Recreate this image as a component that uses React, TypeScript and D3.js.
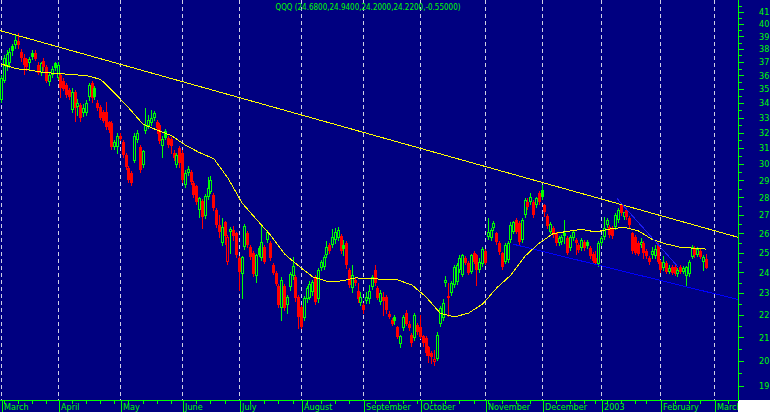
import React from "react";
import * as d3 from "d3";

type OHLC = [number, number, number, number]; // open, high, low, close

const mar02: OHLC[] = [
  [34.2, 36.0, 34.1, 35.8], [35.6, 37.5, 35.5, 37.3], [36.6, 37.9, 36.4, 37.6], [36.9, 38.1, 36.6, 37.8],
  [38.2, 38.4, 37.5, 37.85], [38.3, 39.2, 38.1, 38.7], [38.6, 39.3, 38.1, 38.3], [37.8, 38.0, 37.1, 37.3],
  [37.3, 37.6, 36.1, 36.8], [37.2, 37.3, 36.4, 36.6], [36.9, 37.4, 36.5, 37.2], [37.7, 37.9, 37.2, 37.35],
  [37.7, 37.9, 37.15, 37.25], [36.8, 37.0, 36.1, 36.2], [36.2, 37.0, 36.0, 36.9], [37.1, 37.3, 36.4, 36.6],
  [36.6, 36.8, 35.5, 35.6], [35.5, 36.2, 35.3, 36.0], [36.0, 36.7, 35.9, 36.5], [36.9, 37.0, 36.4, 36.55],
];
const apr02: OHLC[] = [
  [35.8, 37.0, 35.7, 36.8], [36.0, 36.2, 34.4, 35.1], [35.6, 35.8, 34.9, 35.0], [35.3, 35.4, 34.4, 34.55],
  [34.9, 35.05, 34.25, 34.4], [33.5, 35.05, 33.4, 34.8], [34.8, 34.9, 32.8, 33.65], [33.7, 34.3, 33.15, 34.0],
  [33.85, 34.0, 32.8, 32.95], [33.3, 33.9, 33.1, 33.65], [33.3, 34.2, 33.2, 34.0], [34.4, 35.4, 34.2, 35.3],
  [35.4, 35.6, 34.05, 34.35], [35.1, 35.2, 34.3, 34.4], [34.0, 34.2, 33.5, 33.65], [33.7, 33.85, 32.9, 33.0],
  [33.35, 33.5, 32.7, 32.8], [33.35, 34.05, 32.2, 32.35], [32.7, 32.8, 32.05, 32.15], [32.6, 32.75, 30.95, 31.05],
  [31.05, 31.5, 30.95, 31.4], [31.05, 31.95, 30.65, 31.8],
];
const may02: OHLC[] = [
  [31.8, 31.95, 31.5, 31.6], [31.4, 31.5, 30.45, 30.55], [30.55, 30.7, 29.7, 29.8], [29.75, 29.85, 28.9, 29.0],
  [29.45, 29.55, 28.7, 28.85], [30.2, 31.95, 30.1, 31.8], [31.5, 32.15, 31.4, 31.95], [31.05, 31.2, 29.5, 29.6],
  [29.95, 30.9, 29.8, 30.8], [32.1, 33.65, 31.95, 32.5], [32.45, 33.2, 32.3, 32.85], [32.65, 33.5, 32.5, 33.0],
  [33.0, 33.45, 32.85, 33.3], [32.7, 32.85, 32.0, 32.3], [32.5, 32.6, 31.3, 31.45], [31.1, 31.75, 30.4, 31.6],
  [32.1, 32.2, 31.55, 31.65], [31.65, 31.8, 31.05, 31.2], [31.6, 31.7, 30.65, 31.15], [30.7, 30.85, 30.25, 30.35],
  [29.95, 30.7, 29.8, 30.55], [31.0, 31.1, 29.8, 30.05],
];
const jun02: OHLC[] = [
  [30.7, 30.85, 28.9, 29.0], [28.7, 29.6, 28.6, 29.45], [29.45, 29.85, 29.35, 29.7], [29.5, 29.6, 28.8, 28.9],
  [28.85, 28.95, 28.05, 28.15], [28.65, 28.75, 27.65, 27.75], [27.3, 28.05, 26.9, 27.95], [27.8, 27.9, 26.3, 26.9],
  [26.95, 28.2, 26.85, 28.1], [28.05, 29.2, 27.9, 28.55], [28.3, 29.25, 28.25, 29.0], [28.15, 28.25, 27.3, 27.4],
  [27.3, 27.4, 26.35, 26.45], [26.45, 27.0, 25.8, 26.1], [25.5, 26.85, 25.4, 26.35], [26.6, 26.7, 25.45, 25.85],
  [24.5, 25.9, 24.4, 25.8], [26.1, 26.35, 25.0, 26.25], [26.2, 26.4, 25.65, 25.85], [26.0, 26.1, 24.75, 24.85],
];
const jul02: OHLC[] = [
  [24.7, 24.8, 23.15, 24.0], [23.9, 24.8, 22.75, 24.75], [25.3, 26.5, 25.2, 26.4], [26.05, 26.15, 25.3, 25.4],
  [25.3, 25.4, 24.65, 24.75], [25.0, 25.1, 23.8, 23.9], [23.8, 24.95, 23.55, 24.85], [25.25, 25.35, 24.8, 24.88],
  [24.7, 26.5, 24.6, 25.55], [25.3, 25.4, 24.45, 24.5], [25.65, 26.2, 25.55, 26.1], [25.5, 25.6, 24.6, 24.7],
  [24.35, 24.45, 23.9, 23.95], [23.95, 24.05, 23.4, 23.45], [23.35, 23.45, 22.35, 22.45], [22.3, 23.75, 21.75, 23.65],
  [23.35, 23.45, 22.2, 22.3], [22.45, 22.9, 22.1, 22.8], [23.3, 24.0, 23.15, 23.9], [23.8, 24.75, 23.7, 24.3],
  [23.75, 23.85, 22.65, 22.75], [22.8, 22.9, 21.4, 21.9],
];
const aug02: OHLC[] = [
  [22.35, 22.45, 21.4, 21.45], [21.85, 22.85, 21.75, 22.75], [22.7, 23.35, 22.6, 23.25], [22.75, 23.6, 22.7, 23.45],
  [23.05, 23.65, 22.9, 23.55], [23.75, 23.85, 22.5, 22.6], [22.7, 24.2, 22.6, 24.1], [24.2, 24.6, 24.1, 24.5],
  [24.25, 24.85, 24.15, 24.75], [24.85, 25.6, 24.75, 25.3], [25.4, 25.5, 25.0, 25.1], [25.4, 26.25, 25.3, 25.8],
  [25.65, 26.3, 25.5, 26.1], [25.75, 26.35, 25.65, 26.2], [25.85, 25.95, 25.0, 25.1], [25.4, 25.65, 24.85, 25.2],
  [25.5, 25.6, 24.2, 24.35], [24.1, 24.2, 23.3, 23.4], [23.25, 24.35, 23.05, 23.85], [23.65, 23.75, 23.4, 23.5],
  [23.1, 23.5, 22.6, 22.7], [22.55, 23.05, 22.45, 22.8],
];
const sep02: OHLC[] = [
  [22.45, 22.55, 22.1, 22.2], [22.65, 23.05, 22.55, 22.8], [22.7, 23.4, 22.55, 23.1], [23.3, 23.85, 23.2, 23.75],
  [24.1, 24.35, 23.4, 23.5], [23.25, 23.35, 22.7, 22.75], [22.6, 23.15, 22.5, 23.0], [22.8, 23.05, 22.0, 22.65],
  [22.8, 22.9, 22.1, 22.2], [22.05, 22.15, 21.85, 21.9], [21.75, 21.85, 21.55, 21.6], [21.9, 22.0, 21.6, 21.7],
  [21.45, 21.5, 20.95, 21.0], [20.7, 21.1, 20.6, 21.05], [21.4, 22.0, 21.3, 21.9], [22.1, 22.2, 21.55, 21.6],
  [21.6, 21.7, 21.3, 21.4], [21.1, 21.2, 20.65, 20.75], [20.95, 22.1, 20.9, 22.0], [21.55, 21.65, 21.15, 21.25],
];
const oct02: OHLC[] = [
  [21.45, 22.0, 20.95, 21.0], [21.05, 21.1, 20.65, 20.75], [20.95, 21.05, 20.25, 20.35], [20.6, 20.65, 19.95, 20.2],
  [20.35, 20.4, 19.9, 20.15], [19.95, 20.45, 19.85, 20.1], [20.1, 21.25, 20.05, 21.1], [21.6, 22.4, 21.5, 22.3],
  [21.85, 22.7, 21.75, 22.55], [23.5, 23.8, 23.35, 23.65], [22.85, 23.5, 21.95, 22.75], [23.0, 23.6, 22.9, 23.5],
  [23.4, 24.35, 23.3, 24.25], [23.55, 24.45, 23.45, 24.35], [24.1, 24.85, 24.0, 24.7], [23.85, 24.95, 23.8, 24.85],
  [24.7, 24.8, 24.4, 24.45], [24.45, 24.55, 23.9, 23.95], [24.0, 24.95, 23.95, 24.85], [25.0, 25.1, 24.45, 24.5],
  [24.85, 24.95, 23.4, 24.1], [24.1, 24.7, 24.0, 24.5], [24.4, 25.3, 24.3, 25.2],
];
const nov02: OHLC[] = [
  [25.1, 25.2, 24.4, 24.45], [25.8, 26.85, 25.7, 26.1], [25.75, 26.3, 25.65, 26.2], [26.3, 26.7, 26.2, 26.55],
  [26.0, 26.1, 25.45, 25.55], [25.5, 25.6, 24.95, 25.05], [25.0, 25.05, 24.15, 24.25], [24.5, 25.5, 24.45, 25.4],
  [24.6, 25.6, 24.5, 25.5], [25.65, 26.6, 25.55, 26.45], [26.1, 26.7, 26.0, 26.6], [26.75, 26.85, 26.0, 26.1],
  [26.55, 26.7, 25.45, 25.55], [25.65, 26.85, 25.55, 26.75], [27.0, 27.95, 26.9, 27.85], [27.75, 27.95, 27.35, 27.45],
  [27.75, 28.25, 27.65, 28.0], [27.75, 27.85, 26.9, 27.0], [27.55, 28.05, 27.45, 27.95], [28.25, 28.35, 27.65, 27.75],
];
const dec02: OHLC[] = [
  [28.45, 28.75, 27.9, 28.0], [27.55, 27.65, 26.95, 27.2], [26.95, 27.05, 26.3, 26.4], [26.1, 26.6, 26.0, 26.5],
  [26.3, 26.4, 25.8, 25.9], [26.0, 26.1, 25.4, 25.5], [25.5, 25.85, 25.4, 25.75], [25.55, 25.9, 25.45, 25.8],
  [26.0, 26.75, 25.5, 25.85], [25.75, 25.85, 24.95, 25.0], [25.25, 25.9, 25.15, 25.8], [25.75, 26.2, 25.65, 26.1],
  [25.65, 25.75, 24.95, 25.5], [25.4, 25.5, 25.05, 25.15], [25.25, 25.75, 25.15, 25.65], [25.55, 25.65, 25.15, 25.25],
  [25.55, 25.65, 25.25, 25.35], [25.25, 25.35, 24.7, 24.8], [24.95, 25.05, 24.5, 24.55], [24.7, 25.1, 24.4, 24.45],
  [24.4, 25.6, 24.3, 25.5],
];
const jan03: OHLC[] = [
  [25.5, 25.85, 25.4, 25.75], [25.8, 26.9, 25.7, 26.3], [26.45, 26.85, 26.35, 26.75], [26.35, 26.45, 25.8, 25.9],
  [26.3, 26.4, 25.75, 25.85], [26.35, 27.1, 26.25, 27.0], [26.75, 27.4, 26.6, 27.3], [27.55, 27.65, 27.0, 27.1],
  [26.9, 27.2, 26.8, 27.15], [27.3, 27.4, 26.8, 26.9], [26.85, 26.95, 26.35, 26.45], [26.0, 26.1, 25.0, 25.1],
  [25.8, 25.9, 24.95, 25.0], [25.5, 25.6, 24.85, 24.95], [25.4, 25.75, 25.3, 25.55], [25.5, 25.6, 24.7, 25.0],
  [25.1, 25.2, 24.7, 24.8], [24.7, 24.8, 24.4, 24.5], [24.85, 25.3, 24.7, 25.1], [24.8, 25.4, 24.7, 25.2],
  [25.4, 25.5, 24.45, 24.5],
];
const feb03: OHLC[] = [
  [24.5, 24.6, 24.0, 24.1], [24.2, 24.8, 24.1, 24.5], [24.45, 24.55, 23.95, 24.0], [24.0, 24.35, 23.95, 24.2],
  [24.25, 24.35, 23.9, 23.95], [24.25, 24.35, 23.85, 23.92], [23.9, 24.2, 23.8, 24.1], [24.25, 24.35, 23.95, 24.0],
  [24.0, 24.3, 23.95, 24.2], [23.8, 24.3, 23.4, 24.25], [23.9, 24.6, 23.8, 24.5], [24.75, 25.4, 24.7, 25.3],
  [25.25, 25.35, 24.75, 24.85], [24.9, 25.3, 24.8, 25.2], [25.1, 25.2, 24.7, 24.75], [24.5, 24.9, 24.1, 24.77],
  [24.68, 24.94, 24.2, 24.22],
];

const candles: OHLC[] = [
  ...mar02, ...apr02, ...may02, ...jun02, ...jul02, ...aug02,
  ...sep02, ...oct02, ...nov02, ...dec02, ...jan03, ...feb03,
];

// Moving average (yellow curve) at trading-day indices
const maIndex = [0, 5, 10, 15, 20, 25, 30, 35, 40, 45, 50, 55, 60, 65, 70, 75, 80, 85, 90, 95, 100,
  105, 110, 115, 120, 125, 130, 135, 140, 145, 150, 155, 160, 165, 170, 175, 180, 185, 190, 195, 200,
  205, 210, 215, 220, 225, 230, 235, 240, 245, 249];
const maValues = [36.84, 36.49, 36.38, 36.2, 36.13, 36.05, 35.97, 35.7, 34.7, 33.65, 32.55, 32.16, 31.8,
  31.18, 30.7, 30.33, 29.14, 27.68, 26.78, 25.92, 24.93, 24.32, 23.78, 23.57, 23.58, 23.73, 23.7, 23.66,
  23.63, 23.39, 22.82, 22.07, 21.9, 22.07, 22.49, 23.25, 23.87, 24.82, 25.49, 26.0, 26.11, 26.22, 26.08,
  26.24, 26.33, 26.14, 25.68, 25.44, 25.27, 25.22, 25.18];

// Trend lines: [trading-day index, price]
const yellowTrend: [number, number][] = [[-0.5, 39.46], [260.2, 25.8]];
const blueTrendLow: [number, number][] = [[180.9, 25.43], [260.2, 22.7]];
const blueTrendSteep: [number, number][] = [[217.4, 27.95], [239.2, 24.25]];

const monthLabels = ["March", "April", "May", "June", "July", "August", "September", "October",
  "November", "December", "2003", "February", "March"];
const monthStarts = [0, 20, 42, 64, 84, 106, 128, 148, 171, 191, 212, 233, 252];
const holidays = ["2002-03-29", "2002-05-27", "2002-07-04", "2002-09-02", "2002-11-28",
  "2002-12-25", "2003-01-01", "2003-01-20", "2003-02-17"];
const priceTicks = d3.range(19, 42);
const halfTicks = d3.range(19.5, 42, 1);
const symbol = "QQQ";

export default function App() {
  const W = 770, H = 412, PR = 738, PB = 400;
  const NAVY = "#000080", GREEN = "#00ff00", RED = "#ff0000", YELLOW = "#ffff00";

  const x = d3.scaleLinear().domain([0, 252]).range([1.5, 714.7]);
  const y = d3.scaleLog().domain([19, 41]).range([386, 12]);

  // trading calendar for weekly minor ticks
  const fmt = d3.timeFormat("%Y-%m-%d");
  const days: Date[] = [];
  for (let d = new Date(2002, 2, 1); days.length < 262; d.setDate(d.getDate() + 1)) {
    const dow = d.getDay();
    if (dow === 0 || dow === 6 || holidays.includes(fmt(d))) continue;
    days.push(new Date(d));
  }
  const weekStarts = days
    .map((d, i) => (i > 0 && d.getDay() < days[i - 1].getDay() ? i : -1))
    .filter((i) => i > 0 && x(i) < PR && !monthStarts.includes(i));

  const line = d3.line<[number, number]>().x((d) => x(d[0])).y((d) => y(d[1]));
  const maPts: [number, number][] = maIndex.map((i, k) => [i, maValues[k]]);

  const last = candles[candles.length - 1];
  const prev = candles[candles.length - 2];
  const title = `${symbol} (${last[0].toFixed(4)},${last[1].toFixed(4)},${last[2].toFixed(4)},${last[3].toFixed(4)},${(last[3] - prev[3]).toFixed(5)})`;

  const font = "'DejaVu Sans Condensed', 'Liberation Sans', Arial, sans-serif";

  return (
    <svg width={W} height={H} style={{ position: "absolute", left: 0, top: 0, display: "block" }}>
      <defs>
        <clipPath id="plotClip">
          <rect x={0} y={0} width={PR} height={PB} />
        </clipPath>
      </defs>
      <rect x={0} y={0} width={W} height={H} fill="#ffffff" />
      <rect x={0} y={0} width={W} height={PB} fill={NAVY} />
      <rect x={0} y={PB} width={PR} height={H - PB} fill={NAVY} />

      {/* month separators */}
      <g shapeRendering="crispEdges">
        {monthStarts.map((i) => (
          <line key={"g" + i} x1={Math.floor(x(i)) + 0.5} x2={Math.floor(x(i)) + 0.5} y1={0} y2={PB}
            stroke="#d0d0e4" strokeWidth={1} strokeDasharray="4,3" />
        ))}
      </g>

      <g clipPath="url(#plotClip)">
        {/* candles */}
        <g shapeRendering="crispEdges">
          {candles.map((c, i) => {
            const [o, h, l, cl] = c;
            const pc = i > 0 ? candles[i - 1][3] : o - 1;
            const color = cl >= pc ? GREEN : RED;
            const hollow = cl > o;
            const cx = Math.floor(x(i));
            const top = Math.round(y(Math.max(o, cl)));
            const bot = Math.round(y(Math.min(o, cl)));
            const hh = Math.max(1, bot - top);
            return (
              <g key={i}>
                <line x1={cx + 0.5} x2={cx + 0.5} y1={Math.round(y(h))} y2={Math.round(y(l)) + 1} stroke={color} />
                {hollow ? (
                  <rect x={cx - 0.5} y={top + 0.5} width={2} height={Math.max(1, hh - 1)} fill={NAVY} stroke={color} />
                ) : (
                  <rect x={cx - 1} y={top} width={3} height={hh} fill={color} />
                )}
              </g>
            );
          })}
        </g>

        {/* moving average and trend lines */}
        <g fill="none" shapeRendering="crispEdges">
          <path d={line(maPts) || ""} stroke={YELLOW} strokeWidth={1} />
          <path d={line(yellowTrend) || ""} stroke={YELLOW} strokeWidth={1} />
          <path d={line(blueTrendLow) || ""} stroke="#0000ff" strokeWidth={1} />
          <path d={line(blueTrendSteep) || ""} stroke="#1c1cf0" strokeWidth={1} />
        </g>
      </g>

      {/* right price axis */}
      <g shapeRendering="crispEdges">
        <line x1={PR + 0.5} x2={PR + 0.5} y1={0} y2={PB} stroke={GREEN} />
        {priceTicks.map((v) => (
          <line key={"t" + v} x1={PR} x2={PR + 6} y1={Math.round(y(v)) + 0.5} y2={Math.round(y(v)) + 0.5} stroke={GREEN} />
        ))}
        {halfTicks.map((v) => (
          <line key={"h" + v} x1={PR} x2={PR + 4} y1={Math.round(y(v)) + 0.5} y2={Math.round(y(v)) + 0.5} stroke={GREEN} />
        ))}
      </g>
      {priceTicks.map((v) => (
        <text key={"l" + v} x={759} y={y(v) + 3.3} fill={GREEN} fontSize={9} fontFamily={font}>{v}</text>
      ))}

      {/* bottom date axis */}
      <g shapeRendering="crispEdges">
        <line x1={0} x2={PR + 1} y1={PB + 0.5} y2={PB + 0.5} stroke={GREEN} />
        {monthStarts.map((i) => (
          <line key={"m" + i} x1={Math.floor(x(i)) + 1.5} x2={Math.floor(x(i)) + 1.5} y1={PB} y2={H} stroke={GREEN} />
        ))}
        {weekStarts.map((i) => (
          <line key={"w" + i} x1={Math.floor(x(i)) + 0.5} x2={Math.floor(x(i)) + 0.5} y1={PB} y2={PB + 4} stroke={GREEN} />
        ))}
      </g>
      <g clipPath="url(#axisClip)">
        <clipPath id="axisClip">
          <rect x={0} y={PB} width={PR} height={H - PB} />
        </clipPath>
        {monthStarts.map((i, k) => (
          <text key={"ml" + i} x={Math.floor(x(i)) + 3} y={410} fill={GREEN} fontSize={9} fontFamily={font}>
            {monthLabels[k]}
          </text>
        ))}
      </g>

      {/* title */}
      <text x={368} y={10} textAnchor="middle" fill={GREEN} fontSize={9} fontFamily={font}
        textLength={185} lengthAdjust="spacingAndGlyphs">{title}</text>
    </svg>
  );
}
